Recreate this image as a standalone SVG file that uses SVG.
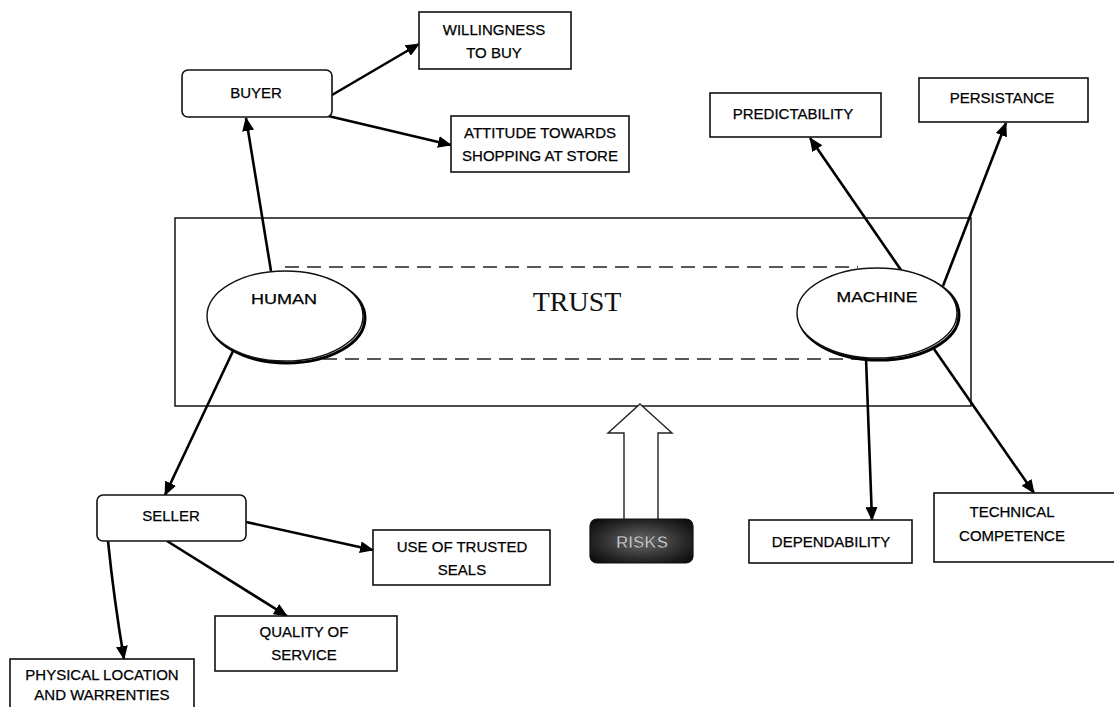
<svg xmlns="http://www.w3.org/2000/svg" width="1114" height="707" viewBox="0 0 1114 707">
<defs>
<marker id="ah" markerUnits="userSpaceOnUse" markerWidth="14" markerHeight="12" refX="13" refY="6" orient="auto">
<path d="M0,0 L14,6 L0,12 Z" fill="#000"/>
</marker>
<radialGradient id="rg" cx="0.5" cy="0.5" r="0.7">
<stop offset="0" stop-color="#6a6a6a"/>
<stop offset="0.6" stop-color="#2a2a2a"/>
<stop offset="1" stop-color="#050505"/>
</radialGradient>
</defs>
<style>
.box{fill:#fff;stroke:#111;stroke-width:1.6}
.t{font-family:"Liberation Sans",Arial,sans-serif;font-size:15px;fill:#000;stroke:#000;stroke-width:0.25;text-anchor:middle}
.c{fill:none;stroke:#000;stroke-width:2.6;marker-end:url(#ah)}
.dash{fill:none;stroke:#222;stroke-width:1.4;stroke-dasharray:14,8}
</style>
<rect width="1114" height="707" fill="#fff"/>

<g id="trust">
<rect x="175" y="218" width="796" height="188" fill="#fff" stroke="#222" stroke-width="1.6"/>
<line class="dash" x1="285" y1="267" x2="858" y2="267"/>
<line class="dash" x1="323" y1="359" x2="858" y2="359"/>
<text x="577" y="311" font-family="Liberation Serif,'Times New Roman',serif" font-size="28" text-anchor="middle" fill="#111">TRUST</text>
</g>

<g id="connectors">
<line class="c" x1="271" y1="271" x2="246" y2="118"/>
<line class="c" x1="332" y1="95" x2="419" y2="44"/>
<line class="c" x1="324" y1="115" x2="451" y2="145"/>
<line class="c" x1="234" y1="349" x2="165" y2="495"/>
<line class="c" x1="246" y1="522" x2="373" y2="550"/>
<line class="c" x1="167" y1="541" x2="287" y2="616"/>
<path class="c" d="M108,541 Q114,600 124,659"/>
<line class="c" x1="901" y1="270" x2="810" y2="138"/>
<line class="c" x1="943" y1="286" x2="1006" y2="123"/>
<line class="c" x1="866" y1="358" x2="872" y2="520"/>
<line class="c" x1="934" y1="349" x2="1034" y2="493"/>
</g>

<g id="human">
<ellipse cx="287" cy="318" rx="78" ry="45" fill="none" stroke="#000" stroke-width="3"/>
<ellipse cx="285" cy="316" rx="78" ry="45" fill="#fff" stroke="#111" stroke-width="1.4"/>
<text class="t" x="284" y="304" textLength="66" lengthAdjust="spacingAndGlyphs">HUMAN</text>
</g>

<g id="machine">
<ellipse cx="879" cy="315" rx="80" ry="45" fill="none" stroke="#000" stroke-width="3"/>
<ellipse cx="877" cy="313" rx="80" ry="45" fill="#fff" stroke="#111" stroke-width="1.4"/>
<text class="t" x="877" y="302" textLength="81" lengthAdjust="spacingAndGlyphs">MACHINE</text>
</g>

<g id="buyer">
<rect class="box" x="182" y="70" width="150" height="47" rx="6"/>
<text class="t" x="256" y="98">BUYER</text>
</g>

<g id="willingness">
<rect class="box" x="419" y="12" width="152" height="57"/>
<text class="t" x="494" y="35">WILLINGNESS</text>
<text class="t" x="494" y="58">TO BUY</text>
</g>

<g id="attitude">
<rect class="box" x="451" y="116" width="178" height="56"/>
<text class="t" x="540" y="138">ATTITUDE TOWARDS</text>
<text class="t" x="540" y="161">SHOPPING AT STORE</text>
</g>

<g id="seller">
<rect class="box" x="97" y="495" width="149" height="46" rx="6"/>
<text class="t" x="171" y="521">SELLER</text>
</g>

<g id="seals">
<rect class="box" x="373" y="530" width="177" height="55"/>
<text class="t" x="462" y="552">USE OF TRUSTED</text>
<text class="t" x="462" y="575">SEALS</text>
</g>

<g id="quality">
<rect class="box" x="215" y="616" width="182" height="55"/>
<text class="t" x="304" y="637">QUALITY OF</text>
<text class="t" x="304" y="660">SERVICE</text>
</g>

<g id="physical">
<rect class="box" x="10" y="659" width="184" height="56"/>
<text class="t" x="102" y="680" font-size="13">PHYSICAL LOCATION</text>
<text class="t" x="102" y="700" font-size="13">AND WARRENTIES</text>
</g>

<g id="predictability">
<rect class="box" x="710" y="93" width="171" height="44"/>
<text class="t" x="793" y="119">PREDICTABILITY</text>
</g>

<g id="persistance">
<rect class="box" x="919" y="78" width="169" height="44"/>
<text class="t" x="1002" y="103">PERSISTANCE</text>
</g>

<g id="dependability">
<rect class="box" x="749" y="520" width="163" height="43"/>
<text class="t" x="831" y="547">DEPENDABILITY</text>
</g>

<g id="technical">
<rect class="box" x="934" y="493" width="190" height="69"/>
<text class="t" x="1012" y="517">TECHNICAL</text>
<text class="t" x="1012" y="541">COMPETENCE</text>
</g>

<g id="risks">
<path d="M640,404 L672,433 L658,433 L658,520 L624,520 L624,433 L608,433 Z" fill="#fff" stroke="#222" stroke-width="1.4"/>
<rect x="590" y="519" width="103" height="44" rx="7" fill="url(#rg)" stroke="#111" stroke-width="1.2"/>
<text x="642" y="548" font-family="'Liberation Sans',Arial,sans-serif" font-size="17" font-weight="bold" text-anchor="middle" fill="#c8c8c8" stroke="#333" stroke-width="0.6">RISKS</text>
</g>
</svg>
